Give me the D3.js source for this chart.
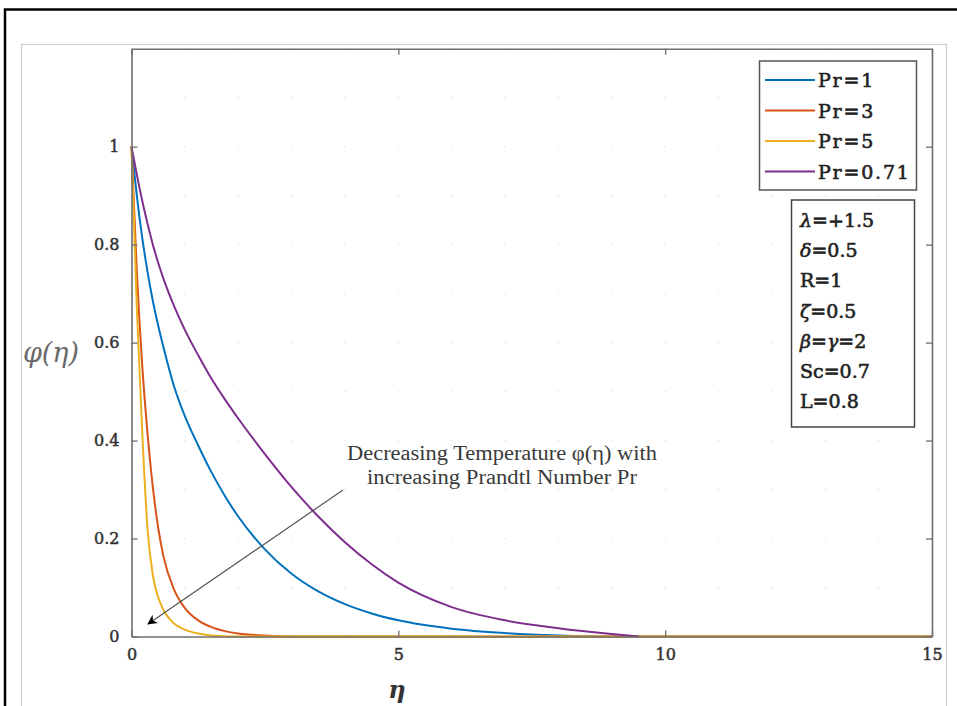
<!DOCTYPE html>
<html>
<head>
<meta charset="utf-8">
<script src="https://cdn.jsdelivr.net/npm/d3@7"></script>
<style>
  body { margin: 0; background: #fff; }
  svg { display: block; }
</style>
</head>
<body>
<div class="module"></div>
<script>
// eta grid and the four temperature profiles
const eta = [0, 0.1, 0.2, 0.3, 0.4, 0.5, 0.6, 0.8, 1, 1.25, 1.5, 1.75, 2, 2.5, 3, 3.5, 4, 4.5, 5, 6, 7, 8, 9, 9.5, 10, 12.5, 15];

const prOne   = [1, 0.9, 0.815, 0.745, 0.685, 0.635, 0.59, 0.51, 0.45, 0.39, 0.335, 0.287, 0.245, 0.178, 0.128, 0.092, 0.066, 0.047, 0.033, 0.016, 0.007, 0.002, 0, 0, 0, 0, 0];
const prThree = [1, 0.745, 0.555, 0.415, 0.305, 0.222, 0.163, 0.095, 0.058, 0.033, 0.019, 0.011, 0.006, 0.002, 0, 0, 0, 0, 0, 0, 0, 0, 0, 0, 0, 0, 0];
const prFive  = [1, 0.67, 0.42, 0.22, 0.125, 0.08, 0.054, 0.026, 0.014, 0.006, 0.002, 0.0005, 0, 0, 0, 0, 0, 0, 0, 0, 0, 0, 0, 0, 0, 0, 0];
// this one stops at eta = 9.5
const prPoint71 = [1, 0.943, 0.89, 0.843, 0.8, 0.763, 0.73, 0.674, 0.626, 0.574, 0.526, 0.484, 0.445, 0.3725, 0.305, 0.245, 0.1925, 0.1475, 0.11, 0.06, 0.033, 0.017, 0.005, 0];

const seriesNames = ["Pr=1", "Pr=3", "Pr=5", "Pr=0.71"];
const seriesColors = ["#0072BD", "#D95319", "#EDB120", "#7E2F8E"];
const seriesValues = [prOne, prThree, prFive, prPoint71];

// pieces of each line of the parameter box (greek letters go italic)
const paramLines = [["λ", "=+1.5"], ["δ", "=0.5"], ["", "R=1"], ["ζ", "=0.5"], ["β", "=", "γ", "=2"], ["", "Sc=0.7"], ["", "L=0.8"]];

const xTicks = [0, 5, 10, 15];
const yTicks = [0, 0.2, 0.4, 0.6, 0.8, 1];

const noteLines = ["Decreasing Temperature φ(η) with", "increasing Prandtl Number Pr"];

const W = 957, H = 706;
const svg = d3.select(".module").append("svg")
  .attr("width", W).attr("height", H);

// outer frames
svg.append("path").attr("d", "M5,706 V9.5 H957")
  .attr("fill", "none").attr("stroke", "#000").attr("stroke-width", 2.5);
svg.append("rect").attr("x", 21.5).attr("y", 44.5).attr("width", 925).attr("height", 700)
  .attr("fill", "none").attr("stroke", "#cfcfcf").attr("stroke-width", 1.2);

const plotLeft = 131.5, plotRight = 932, plotTop = 48.7, plotBottom = 636.5;

const x = d3.scaleLinear().domain([0, 15]).range([plotLeft, plotRight]);
const y = d3.scaleLinear().domain([0, 1.2]).range([plotBottom, plotTop]);

// minor grid (shows as faint dots)
const gx = d3.range(0, 16, 1), gy = d3.range(0, 1.21, 0.1);
const dots = [];
gx.forEach(a => gy.forEach(b => dots.push([a, b])));
svg.append("g").selectAll("circle").data(dots).enter().append("circle")
  .attr("cx", d => x(d[0])).attr("cy", d => y(d[1])).attr("r", 0.9)
  .attr("fill", "#e8e8e8");

// curves
const line = d3.line()
  .x((d, i) => x(eta[i]))
  .y(d => y(d))
  .curve(d3.curveMonotoneX);

svg.append("g").selectAll("path").data(seriesValues).enter().append("path")
  .attr("d", d => line(d))
  .attr("fill", "none")
  .attr("stroke", (d, i) => seriesColors[i])
  .attr("stroke-width", 2);

// axes
const serif = "'DejaVu Serif', serif";
const axisColor = "#6e6e6e";

const xAxis = svg.append("g").attr("transform", "translate(0," + plotBottom + ")")
  .call(d3.axisBottom(x).tickValues(xTicks).tickSizeInner(-6).tickSizeOuter(0).tickPadding(12));
const yAxis = svg.append("g").attr("transform", "translate(" + plotLeft + ",0)")
  .call(d3.axisLeft(y).tickValues(yTicks).tickFormat(d3.format("~g")).tickSizeInner(-6).tickSizeOuter(0).tickPadding(12));
const xTop = svg.append("g").attr("transform", "translate(0," + plotTop + ")")
  .call(d3.axisTop(x).tickValues(xTicks).tickFormat("").tickSizeInner(-6).tickSizeOuter(0));
const yRight = svg.append("g").attr("transform", "translate(" + plotRight + ",0)")
  .call(d3.axisRight(y).tickValues(yTicks).tickFormat("").tickSizeInner(-6).tickSizeOuter(0));

[xAxis, yAxis, xTop, yRight].forEach(g => {
  g.selectAll("path.domain").attr("stroke", axisColor).attr("stroke-width", 1.6);
  g.selectAll(".tick line").attr("stroke", axisColor).attr("stroke-width", 1.3);
  g.selectAll("text").attr("font-family", serif).attr("font-size", 16)
    .attr("fill", "#333").attr("stroke", "#333").attr("stroke-width", 0.5);
});

// axis titles
svg.append("text").attr("x", 51).attr("y", 362).attr("text-anchor", "middle")
  .attr("font-family", serif).attr("font-style", "italic")
  .attr("font-size", 27).attr("fill", "#6a6a6a").text("φ(η)");
svg.append("text").attr("x", 397).attr("y", 698).attr("text-anchor", "middle")
  .attr("font-family", serif).attr("font-style", "italic").attr("font-weight", "bold")
  .attr("font-size", 24).attr("fill", "#333").text("η");

// legend
const legend = svg.append("g");
legend.append("rect").attr("x", 759.5).attr("y", 61).attr("width", 157).attr("height", 129)
  .attr("fill", "#fff").attr("stroke", "#555").attr("stroke-width", 1.5);
const rows = legend.selectAll("g.row").data(seriesNames).enter().append("g")
  .attr("transform", (d, i) => "translate(0," + (80 + i * 30.5) + ")");
rows.append("line").attr("x1", 765).attr("x2", 815)
  .attr("stroke", (d, i) => seriesColors[i]).attr("stroke-width", 2);
rows.append("text").attr("x", 818).attr("y", 7)
  .attr("font-family", serif).attr("font-size", 19)
  .attr("letter-spacing", 1.8).attr("fill", "#222").attr("stroke", "#222").attr("stroke-width", 0.6)
  .text(d => d);

// parameter box
const pbox = svg.append("g");
pbox.append("rect").attr("x", 791.5).attr("y", 200).attr("width", 123).attr("height", 227)
  .attr("fill", "#fff").attr("stroke", "#444").attr("stroke-width", 1.5);
const ptext = pbox.selectAll("text").data(paramLines).enter().append("text")
  .attr("x", 800).attr("y", (d, i) => 227 + i * 30.2)
  .attr("font-family", serif).attr("font-size", 19)
  .attr("fill", "#222").attr("stroke", "#222").attr("stroke-width", 0.6);
ptext.selectAll("tspan").data(d => d).enter().append("tspan")
  .attr("font-style", d => /[α-ω]/.test(d) ? "italic" : "normal")
  .text(d => d);

// annotation arrow and note
svg.append("defs").append("marker").attr("id", "head")
  .attr("viewBox", "0 0 10 10").attr("refX", 9).attr("refY", 5)
  .attr("markerWidth", 10).attr("markerHeight", 10).attr("markerUnits", "userSpaceOnUse")
  .attr("orient", "auto")
  .append("path").attr("d", "M0,0 L10,5 L0,10 L3,5 Z").attr("fill", "#000");
svg.append("line").attr("x1", 343).attr("y1", 490).attr("x2", 148).attr("y2", 624)
  .attr("stroke", "#555").attr("stroke-width", 1.2)
  .attr("marker-end", "url(#head)");

const noteWidths = [310, 270];
svg.selectAll("text.note").data(noteLines).enter().append("text")
  .attr("class", "note")
  .attr("x", 502).attr("y", (d, i) => 460 + i * 24)
  .attr("text-anchor", "middle")
  .attr("font-family", "'Liberation Serif', serif").attr("font-size", 20)
  .attr("textLength", (d, i) => noteWidths[i]).attr("lengthAdjust", "spacingAndGlyphs")
  .attr("fill", "#3a3a3a").text(d => d);
</script>
</body>
</html>
